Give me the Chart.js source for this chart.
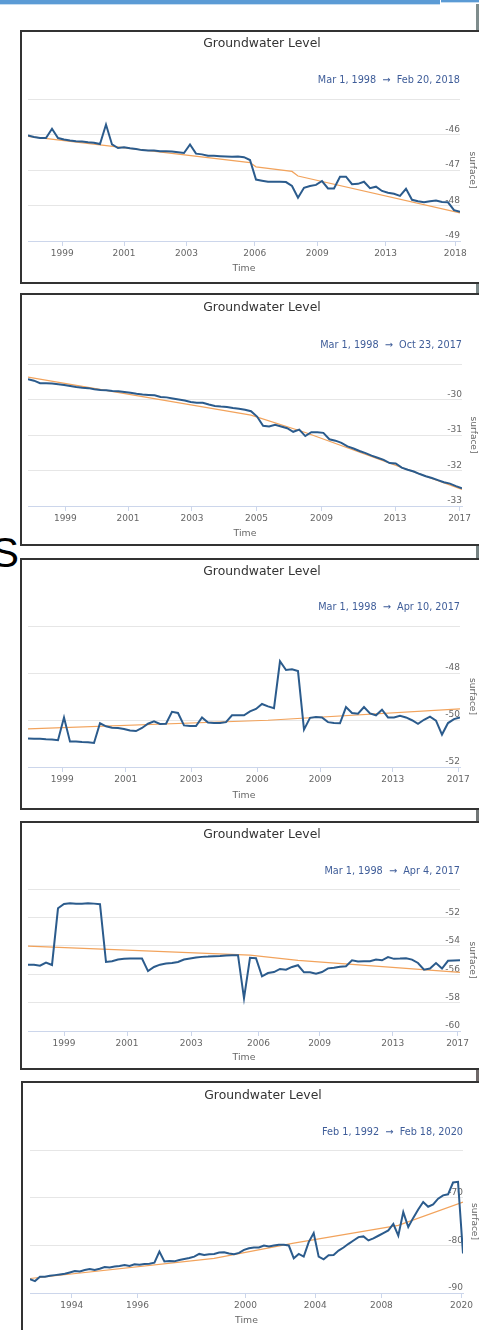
<!DOCTYPE html>
<html>
<head>
<meta charset="utf-8">
<title>Groundwater Level</title>
<script src="https://cdn.jsdelivr.net/npm/chart.js@4"></script>
<style>
  html, body { margin: 0; padding: 0; background: #fff; }
  body { position: relative; width: 479px; height: 1330px; overflow: hidden; }
  .bar { position: absolute; left: 0; top: 0; width: 440px; height: 4px; background: #5b9bd5; border-bottom: 1px solid #c5dcf0; }
  .bar2 { position: absolute; left: 441px; top: 0; width: 40px; height: 2px; background: #5b9bd5; border-bottom: 1px solid #c5dcf0; }
  .edge { position: absolute; left: 476px; top: 4px; width: 3px; height: 1326px; background: linear-gradient(#7f8d8d, #748080 50%, #6c5a5a); }
  .big { position: absolute; left: -9px; top: 532px; font: 42px/42px 'Liberation Sans', sans-serif; color: #000; }
  .panel { position: absolute; left: 20px; border: 2px solid #333; background: #fff; }
  .panel canvas { display: block; }
</style>
</head>
<body>
<div class="bar"></div>
<div class="bar2"></div>
<div class="edge"></div>
<div class="big">S</div>

<div class="panel" style="top:30px"><canvas id="c1" width="480" height="250"></canvas></div>
<div class="panel" style="top:293px"><canvas id="c2" width="480" height="249"></canvas></div>
<div class="panel" style="top:558px"><canvas id="c3" width="480" height="248"></canvas></div>
<div class="panel" style="top:821px"><canvas id="c4" width="480" height="245"></canvas></div>
<div class="panel" style="top:1081px; left:21px"><canvas id="c5" width="480" height="250"></canvas></div>

<script>
// ---- Well 1 ----
const p1Dates = 'Mar 1, 1998  \u2192  Feb 20, 2018';
const p1Level = [
  -46.03, -46.07, -46.10, -46.10, -45.84, -46.10, -46.14, -46.17, -46.19, -46.20,
  -46.22, -46.23, -46.27, -45.72, -46.28, -46.38, -46.36, -46.39, -46.41, -46.44,
  -46.45, -46.45, -46.47, -46.47, -46.48, -46.50, -46.52, -46.28, -46.54, -46.56,
  -46.60, -46.60, -46.61, -46.62, -46.63, -46.62, -46.64, -46.72, -47.27, -47.30,
  -47.33, -47.33, -47.33, -47.34, -47.45, -47.78, -47.50, -47.45, -47.42, -47.31,
  -47.52, -47.52, -47.19, -47.19, -47.40, -47.39, -47.33, -47.51, -47.47, -47.59,
  -47.64, -47.67, -47.73, -47.53, -47.84, -47.88, -47.91, -47.88, -47.86, -47.90,
  -47.91, -48.13, -48.18
];
const p1TrendAt = [0, 37, 38, 44, 45, 72];
const p1Trend = [-46.05, -46.79, -46.91, -47.04, -47.17, -48.21];
const p1TickAt = [5.7, 16, 26.4, 37.8, 48.2, 59.6, 71.2];
const p1TickText = ['1999', '2001', '2003', '2006', '2009', '2013', '2018'];
const p1Axis = [-49, -45, 1];

// ---- Well 2 ----
const p2Dates = 'Mar 1, 1998  \u2192  Oct 23, 2017';
const p2Level = [
  -29.43, -29.47, -29.54, -29.54, -29.55, -29.57, -29.59, -29.62, -29.65, -29.67,
  -29.68, -29.71, -29.73, -29.74, -29.76, -29.77, -29.79, -29.81, -29.84, -29.86,
  -29.87, -29.88, -29.93, -29.94, -29.97, -30.00, -30.03, -30.07, -30.09, -30.09,
  -30.14, -30.18, -30.20, -30.21, -30.24, -30.26, -30.29, -30.33, -30.48, -30.74,
  -30.76, -30.71, -30.76, -30.81, -30.91, -30.85, -31.03, -30.92, -30.92, -30.94,
  -31.12, -31.16, -31.22, -31.32, -31.38, -31.45, -31.51, -31.58, -31.64, -31.70,
  -31.79, -31.80, -31.92, -31.98, -32.03, -32.10, -32.16, -32.21, -32.27, -32.33,
  -32.37, -32.44, -32.50
];
const p2TrendAt = [0, 37, 46, 72];
const p2Trend = [-29.37, -30.44, -30.93, -32.53];
const p2TickAt = [6.2, 16.6, 27.2, 37.9, 48.7, 60.9, 71.6];
const p2TickText = ['1999', '2001', '2003', '2005', '2009', '2013', '2017'];
const p2Axis = [-33, -29, 1];

// ---- Well 3 ----
const p3Dates = 'Mar 1, 1998  \u2192  Apr 10, 2017';
const p3Level = [
  -50.79, -50.80, -50.80, -50.82, -50.83, -50.86, -49.89, -50.92, -50.92, -50.94,
  -50.95, -50.98, -50.14, -50.27, -50.33, -50.34, -50.38, -50.45, -50.47, -50.34,
  -50.16, -50.06, -50.17, -50.16, -49.65, -49.70, -50.23, -50.26, -50.26, -49.89,
  -50.11, -50.13, -50.13, -50.09, -49.80, -49.80, -49.80, -49.63, -49.53, -49.32,
  -49.42, -49.50, -47.50, -47.87, -47.84, -47.92, -50.41, -49.91, -49.87, -49.89,
  -50.09, -50.13, -50.14, -49.45, -49.70, -49.73, -49.45, -49.72, -49.80, -49.56,
  -49.89, -49.89, -49.82, -49.89, -50.01, -50.16, -49.99, -49.86, -50.03, -50.62,
  -50.13, -49.96, -49.89
];
const p3TrendAt = [0, 40, 72];
const p3Trend = [-50.38, -50.01, -49.53];
const p3TickAt = [5.7, 16.3, 27.2, 38.2, 48.7, 60.8, 71.7];
const p3TickText = ['1999', '2001', '2003', '2006', '2009', '2013', '2017'];
const p3Axis = [-52, -46, 2];

// ---- Well 4 ----
const p4Dates = 'Mar 1, 1998  \u2192  Apr 4, 2017';
const p4Level = [
  -55.33, -55.33, -55.40, -55.18, -55.35, -51.36, -51.05, -51.00, -51.03, -51.03,
  -51.00, -51.03, -51.07, -55.14, -55.09, -54.97, -54.92, -54.90, -54.90, -54.90,
  -55.78, -55.49, -55.33, -55.25, -55.21, -55.14, -54.97, -54.90, -54.83, -54.78,
  -54.76, -54.73, -54.71, -54.68, -54.66, -54.66, -57.70, -54.85, -54.87, -56.15,
  -55.92, -55.85, -55.63, -55.68, -55.49, -55.37, -55.87, -55.87, -55.97, -55.85,
  -55.59, -55.54, -55.47, -55.44, -55.02, -55.11, -55.09, -55.09, -54.97, -55.02,
  -54.80, -54.92, -54.90, -54.87, -54.97, -55.21, -55.68, -55.60, -55.22, -55.60,
  -55.06, -55.04, -55.02
];
const p4TrendAt = [0, 37, 45, 72];
const p4Trend = [-54.02, -54.66, -55.02, -55.87];
const p4TickAt = [6.0, 16.5, 27.2, 38.4, 48.6, 60.8, 71.6];
const p4TickText = ['1999', '2001', '2003', '2006', '2009', '2013', '2017'];
const p4Axis = [-60, -50, 2];

// ---- Well 5 ----
const p5Dates = 'Feb 1, 1992  \u2192  Feb 18, 2020';
const p5Level = [
  -87.10, -87.50, -86.61, -86.61, -86.40, -86.25, -86.11, -85.97, -85.69, -85.41,
  -85.48, -85.19, -84.98, -85.19, -84.91, -84.56, -84.63, -84.42, -84.35, -84.13,
  -84.35, -83.99, -84.06, -83.92, -83.85, -83.64, -81.30, -83.40, -83.29, -83.36,
  -83.07, -82.86, -82.65, -82.37, -81.80, -82.01, -81.87, -81.80, -81.52, -81.45,
  -81.73, -81.87, -81.59, -80.95, -80.60, -80.46, -80.46, -80.04, -80.25, -80.04,
  -79.89, -79.89, -80.04, -82.72, -81.80, -82.37, -79.33, -77.42, -82.37, -82.93,
  -82.08, -82.01, -81.10, -80.46, -79.68, -78.98, -78.27, -78.13, -78.98, -78.55,
  -77.99, -77.42, -76.86, -75.51, -77.99, -73.04, -76.15, -74.24, -72.47, -70.90,
  -71.91, -71.41, -70.21, -69.51, -69.29, -66.82, -66.68, -81.70
];
const p5TrendAt = [0, 37, 53, 74, 87];
const p5Trend = [-86.96, -82.72, -79.54, -75.80, -70.92];
const p5TickAt = [8.4, 21.6, 43.3, 57.3, 70.6, 86.7];
const p5TickText = ['1994', '1996', '2000', '2004', '2008', '2020'];
const p5Axis = [-90, -60, 10];

Chart.defaults.font.family = "'DejaVu Sans', sans-serif";
Chart.defaults.color = '#666';

const CANVAS_W = 480;
const TITLE_PX = 12.4, DATE_PX = 9.7, TIME_PX = 9.3, YTITLE_PX = 9;

function drawWell(canvasId, well, box) {
  const lh = px => px * 1.2;
  const sidePad = box.left;                 // equal side padding keeps the title centred on the card
  const yAxisW = CANVAS_W - sidePad - box.right;
  const xAxisH = box.h - box.bottom;
  const titleBottom = box.titleY + lh(TITLE_PX) / 2;

  new Chart(document.getElementById(canvasId), {
    type: 'line',
    data: {
      datasets: [
        {
          label: 'level',
          data: well.level.map((v, i) => ({ x: i, y: v })),
          borderColor: '#2b5b8c',
          borderWidth: 2,
          pointRadius: 0,
          tension: 0
        },
        {
          label: 'trend',
          data: well.trendAt.map((x, k) => ({ x: x, y: well.trend[k] })),
          borderColor: '#f2a35c',
          borderWidth: 1.2,
          pointRadius: 0,
          tension: 0
        }
      ]
    },
    options: {
      responsive: false,
      animation: false,
      devicePixelRatio: 1,
      events: [],
      layout: { padding: { left: sidePad, right: sidePad, top: 0, bottom: 0 } },
      plugins: {
        legend: { display: false },
        tooltip: { enabled: false },
        title: {
          display: true,
          text: 'Groundwater Level',
          color: '#333',
          font: { size: TITLE_PX, weight: 'normal' },
          padding: { top: box.titleY - lh(TITLE_PX) / 2, bottom: 0 }
        },
        subtitle: {
          display: true,
          text: well.dates,
          align: 'end',
          fullSize: false,
          color: '#3f5d99',
          font: { size: DATE_PX },
          padding: {
            top: box.dateY - lh(DATE_PX) / 2 - titleBottom,
            bottom: box.top - (box.dateY + lh(DATE_PX) / 2)
          }
        }
      },
      scales: {
        x: {
          type: 'linear',
          min: 0,
          max: well.level.length - 1,
          afterBuildTicks: s => { s.ticks = well.tickAt.map(v => ({ value: v })); },
          afterFit: s => { s.height = xAxisH; },
          ticks: {
            autoSkip: false,
            maxRotation: 0,
            padding: 2,
            color: '#666',
            font: { size: 9 },
            callback: (v, i) => well.tickText[i]
          },
          grid: { drawOnChartArea: false, drawTicks: true, tickLength: 5, tickColor: '#ccd6eb' },
          border: { display: true, color: '#ccd6eb' },
          title: {
            display: true,
            text: 'Time',
            color: '#666',
            font: { size: TIME_PX },
            padding: { top: 0, bottom: box.h - box.timeY - lh(TIME_PX) / 2 }
          }
        },
        y: {
          position: 'right',
          min: well.axis[0],
          max: well.axis[1],
          afterFit: s => { s.width = yAxisW; },
          ticks: {
            stepSize: well.axis[2],
            mirror: true,
            padding: 0,
            labelOffset: -5,
            color: '#666',
            font: { size: 9 },
            callback: v => (v === well.axis[1] ? '' : String(v))
          },
          grid: { color: '#e6e6e6', drawTicks: false },
          border: { display: false },
          title: {
            display: true,
            text: 'surface]',
            color: '#666',
            font: { size: YTITLE_PX },
            padding: { top: (CANVAS_W - sidePad) - box.yTitleX - lh(YTITLE_PX) / 2, bottom: 0 }
          }
        }
      }
    }
  });
}

drawWell('c1',
  { dates: p1Dates, level: p1Level, trendAt: p1TrendAt, trend: p1Trend, tickAt: p1TickAt, tickText: p1TickText, axis: p1Axis },
  { h: 250, left: 6, right: 438, top: 67, bottom: 209, titleY: 12, dateY: 48, timeY: 237, yTitleX: 450 });

drawWell('c2',
  { dates: p2Dates, level: p2Level, trendAt: p2TrendAt, trend: p2Trend, tickAt: p2TickAt, tickText: p2TickText, axis: p2Axis },
  { h: 249, left: 6, right: 440, top: 69, bottom: 211, titleY: 13, dateY: 50, timeY: 239, yTitleX: 451 });

drawWell('c3',
  { dates: p3Dates, level: p3Level, trendAt: p3TrendAt, trend: p3Trend, tickAt: p3TickAt, tickText: p3TickText, axis: p3Axis },
  { h: 248, left: 6, right: 438, top: 66, bottom: 207, titleY: 12, dateY: 47, timeY: 236, yTitleX: 450 });

drawWell('c4',
  { dates: p4Dates, level: p4Level, trendAt: p4TrendAt, trend: p4Trend, tickAt: p4TickAt, tickText: p4TickText, axis: p4Axis },
  { h: 245, left: 6, right: 438, top: 66, bottom: 208, titleY: 12, dateY: 48, timeY: 235, yTitleX: 450 });

drawWell('c5',
  { dates: p5Dates, level: p5Level, trendAt: p5TrendAt, trend: p5Trend, tickAt: p5TickAt, tickText: p5TickText, axis: p5Axis },
  { h: 250, left: 7, right: 440, top: 67, bottom: 210, titleY: 13, dateY: 49, timeY: 238, yTitleX: 451 });
</script>
</body>
</html>
